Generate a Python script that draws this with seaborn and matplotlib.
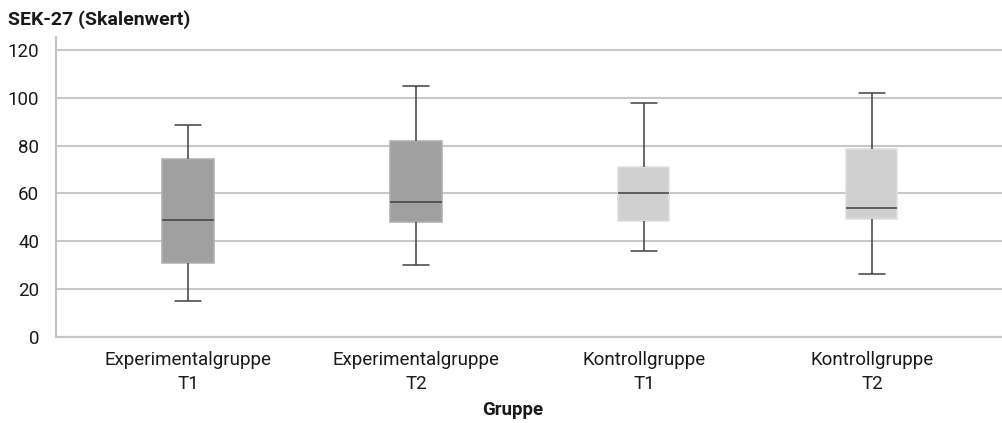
import pandas as pd
import seaborn as sns
import matplotlib.pyplot as plt

# Kennwerte je Gruppe (Minimum, Q1, Median, Q3, Maximum)
gruppen = ["Experimentalgruppe\nT1", "Experimentalgruppe\nT2",
           "Kontrollgruppe\nT1", "Kontrollgruppe\nT2"]
minimum = [15, 30, 36, 26.5]
q1 = [31, 48, 48.5, 49.5]
median = [49, 56.5, 60, 54]
q3 = [74.5, 82, 71, 78.5]
maximum = [88.5, 105, 98, 102]
farben = ["#a0a0a0", "#a0a0a0", "#d0d0d0", "#d0d0d0"]
y_ticks = [0, 20, 40, 60, 80, 100, 120]

# fuenf Werte je Gruppe -> Quartile genau auf den Kennwerten
rows = []
for i, g in enumerate(gruppen):
    for v in (minimum[i], q1[i], median[i], q3[i], maximum[i]):
        rows.append({"Gruppe": g, "Wert": v})
df = pd.DataFrame(rows)

sns.set_theme(style="white")
plt.rcParams["font.family"] = ["Roboto", "DejaVu Sans"]

fig = plt.figure(figsize=(10.03, 4.23), dpi=100)
ax = fig.add_axes([56 / 1003, 86 / 423, 947 / 1003, 300 / 423])

sns.boxplot(data=df, x="Gruppe", y="Wert", hue="Gruppe", palette=farben,
            legend=False, whis=(0, 100), width=0.224, linecolor="#404040",
            linewidth=1.1, saturation=1, ax=ax)

# Kastenrand etwas heller als die Fuellung
for p in ax.patches:
    fc = p.get_facecolor()
    p.set_edgecolor(tuple(min(1, c + 0.06) for c in fc[:3]))

ax.set_xlim(-0.579, 3.575)
ax.set_ylim(0, 125.4)
ax.set_yticks(y_ticks)
ax.yaxis.grid(True, color="#c8c8c8", linewidth=1.5)
ax.set_axisbelow(True)

for s in ["top", "right"]:
    ax.spines[s].set_visible(False)
for s in ["left", "bottom"]:
    ax.spines[s].set_color("#c4c4c4")
    ax.spines[s].set_linewidth(1.5)

ax.tick_params(axis="y", length=0, pad=12, labelsize=13.5, labelcolor="#1a1a1a")
ax.tick_params(axis="x", length=0, pad=10, labelsize=13.5, labelcolor="#1a1a1a")
for t in ax.get_xticklabels():
    t.set_linespacing(1.45)

ax.set_ylabel("")
ax.set_xlabel("Gruppe", fontsize=13.5, fontweight="bold", color="#1a1a1a")
ax.xaxis.set_label_coords(0.4826, -0.243)
ax.xaxis.label.set_va("center")

fig.text(0.008, 0.941, "SEK-27 (Skalenwert)", fontsize=14, fontweight="bold",
         color="#1a1a1a", va="baseline", ha="left")

fig.savefig("out.png", dpi=100)
